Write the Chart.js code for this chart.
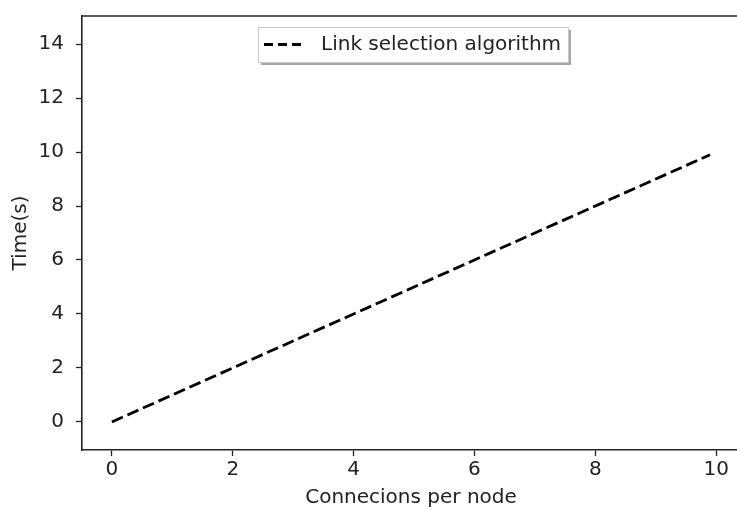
<!DOCTYPE html>
<html><head><meta charset="utf-8">
<script src="https://cdn.jsdelivr.net/npm/chart.js@4/dist/chart.umd.min.js"></script>
<style>html,body{margin:0;padding:0;background:#fff;overflow:hidden;}#wrap{width:741px;height:509px;}</style>
</head><body><div id="wrap"><canvas id="c" width="741" height="509"></canvas></div>
<script>
const seriesLabel = "Link selection algorithm";
const xValues = [0, 2, 4, 6, 8, 9.9];
const yValues = [0, 2, 4, 6, 8, 9.9];
const xTicks = [0, 2, 4, 6, 8, 10];
const yTicks = [0, 2, 4, 6, 8, 10, 12, 14];
const xTitle = "Connecions per node";
const yTitle = "Time(s)";

const FONT = "'DejaVu Sans', sans-serif";
const INK = "#222";
const FS = 20;

const framePlugin = {
  id: 'frame',
  afterDraw(chart) {
    const {ctx, chartArea: a} = chart;
    ctx.save();
    ctx.strokeStyle = INK; ctx.lineWidth = 1.6;
    ctx.beginPath(); ctx.moveTo(a.left, a.top); ctx.lineTo(a.right, a.top); ctx.stroke();
    // legend
    const bx = 258, by = 27, bw = 310, bh = 35;
    ctx.fillStyle = 'rgba(0,0,0,0.35)';
    ctx.fillRect(bx + 3, by + 3, bw, bh);
    ctx.fillStyle = '#fff';
    ctx.fillRect(bx, by, bw, bh);
    ctx.strokeStyle = '#c8c8c8'; ctx.lineWidth = 1;
    ctx.strokeRect(bx + 0.5, by + 0.5, bw, bh);
    ctx.strokeStyle = '#000'; ctx.lineWidth = 2.8;
    ctx.setLineDash([9, 5]);
    ctx.beginPath(); ctx.moveTo(264, 44.5); ctx.lineTo(305, 44.5); ctx.stroke();
    ctx.setLineDash([]);
    ctx.fillStyle = INK;
    ctx.font = FS + "px " + FONT;
    ctx.textBaseline = 'middle';
    ctx.fillText(chart.data.datasets[0].label, 321, 44.5);
    ctx.restore();
  }
};

new Chart(document.getElementById('c'), {
  type: 'line',
  data: {
    datasets: [{
      label: seriesLabel,
      data: xValues.map((x, i) => ({x, y: yValues[i]})),
      borderColor: '#000',
      borderWidth: 2.8,
      borderDash: [12, 5],
      pointRadius: 0,
      fill: false,
      tension: 0
    }]
  },
  options: {
    responsive: false,
    animation: false,
    layout: {padding: {top: 16, right: 1, left: 0, bottom: 0}},
    plugins: {legend: {display: false}, tooltip: {enabled: false}},
    scales: {
      x: {
        type: 'linear', min: -0.495, max: 10.395,
        afterBuildTicks: s => { s.ticks = xTicks.map(v => ({value: v})); },
        afterFit: s => { s.height = 59; s.paddingLeft = 0; s.paddingRight = 0; },
        grid: {drawOnChartArea: false, tickLength: 6, tickColor: INK, tickWidth: 1.3},
        border: {color: INK, width: 1.6},
        ticks: {color: INK, font: {family: FONT, size: FS}, padding: 2, maxRotation: 0},
        title: {display: true, text: xTitle, color: INK, font: {family: FONT, size: FS, lineHeight: 1.1}, padding: {top: 0, bottom: 0}}
      },
      y: {
        type: 'linear', min: -1.04, max: 15.04,
        afterBuildTicks: s => { s.ticks = yTicks.map(v => ({value: v})); },
        afterFit: s => { s.width = 82; s.paddingTop = 0; s.paddingBottom = 0; },
        grid: {drawOnChartArea: false, tickLength: 6, tickColor: INK, tickWidth: 1.3},
        border: {color: INK, width: 1.6},
        ticks: {color: INK, font: {family: FONT, size: FS}, padding: 12},
        title: {display: true, text: yTitle, color: INK, font: {family: FONT, size: FS, lineHeight: 1.1}, padding: {top: 10, bottom: 0}}
      }
    }
  },
  plugins: [framePlugin]
});
</script>
</body></html>
